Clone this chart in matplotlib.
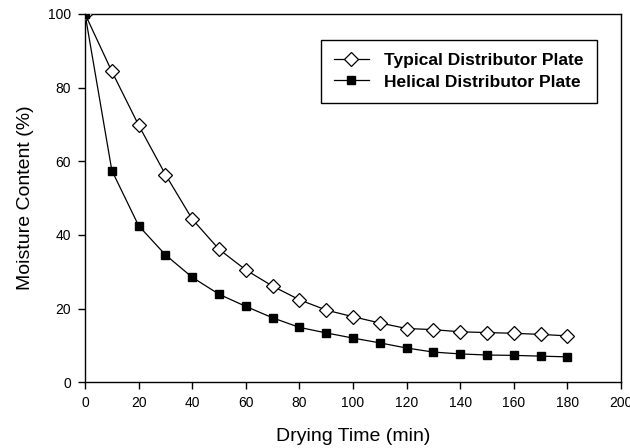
import matplotlib

matplotlib.use("Agg")
import matplotlib.pyplot as plt

plt.rcParams["font.family"] = ["Liberation Sans", "DejaVu Sans"]

# drying time (min) and moisture content (%)
drying_time = [0, 10, 20, 30, 40, 50, 60, 70, 80, 90, 100, 110, 120, 130, 140, 150, 160, 170, 180]
typical_plate = [100, 84.4, 69.8, 56.4, 44.3, 36.1, 30.5, 26.1, 22.4, 19.6, 17.8, 16.1, 14.6,
                 14.3, 13.7, 13.5, 13.3, 13.0, 12.6]
helical_plate = [100, 57.5, 42.5, 34.6, 28.5, 23.9, 20.6, 17.5, 14.9, 13.4, 12.0, 10.7, 9.3,
                 8.2, 7.7, 7.4, 7.3, 7.1, 6.9]

x_ticks = [0, 20, 40, 60, 80, 100, 120, 140, 160, 180, 200]
y_ticks = [0, 20, 40, 60, 80, 100]

fig = plt.figure(figsize=(6.3, 4.48), dpi=100)
ax = fig.add_axes([0.135, 0.1467, 0.8507, 0.8221])

ax.plot(drying_time, typical_plate, color="black", lw=0.9, marker="D", ms=7.5,
        mfc="white", mec="black", mew=0.9, label="Typical Distributor Plate", zorder=3)
ax.plot(drying_time, helical_plate, color="black", lw=0.9, marker="s", ms=6,
        mfc="black", mec="black", label="Helical Distributor Plate", zorder=3)

ax.set_xlim(0, 200)
ax.set_ylim(0, 100)
ax.set_xticks(x_ticks)
ax.set_yticks(y_ticks)
ax.tick_params(direction="out", length=5, width=1, labelsize=10, pad=5)
for s in ax.spines.values():
    s.set_linewidth(1)

ax.set_xlabel("Drying Time (min)", fontsize=14, labelpad=13)
ax.set_ylabel("Moisture Content (%)", fontsize=14, labelpad=10)

leg = ax.legend(loc="upper right", bbox_to_anchor=(0.955, 0.929), borderaxespad=0,
                fancybox=False, framealpha=1, edgecolor="black", handlelength=2.0,
                handletextpad=0.9, borderpad=0.75, labelspacing=0.35,
                prop={"weight": "bold", "size": 12.5})
leg.get_frame().set_linewidth(1)

fig.savefig("out.png", dpi=100)
